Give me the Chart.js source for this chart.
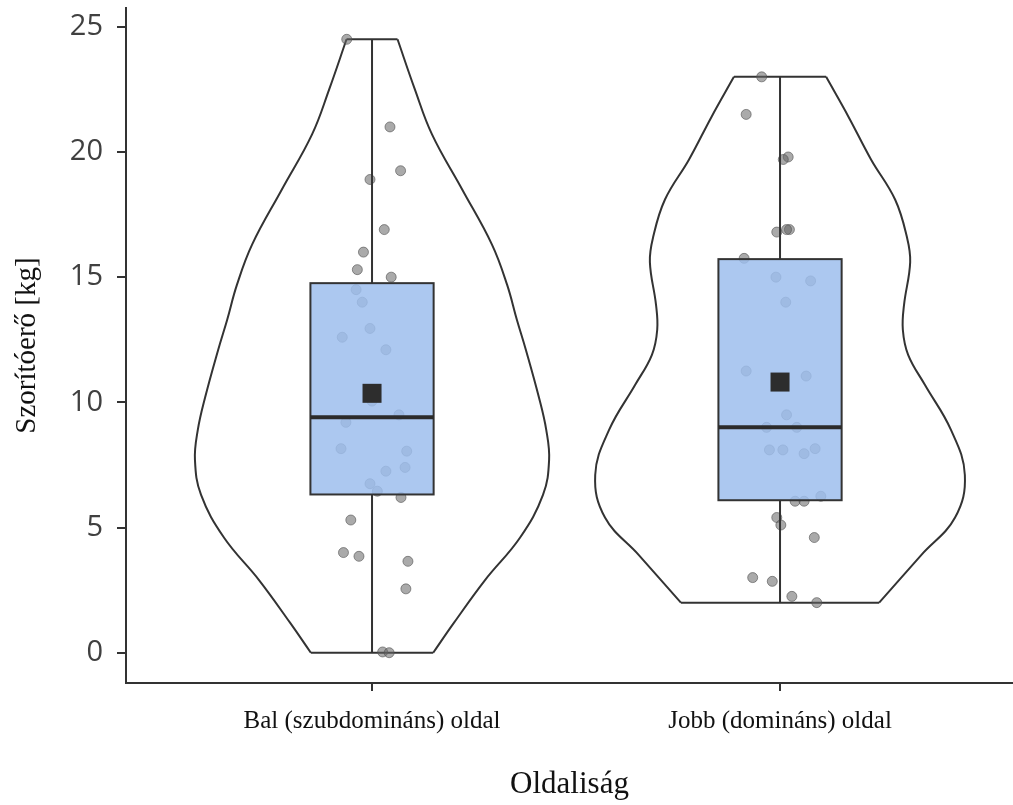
<!DOCTYPE html>
<html lang="hu">
<head>
  <meta charset="UTF-8">
  <title>Szorítóerő oldaliság szerint</title>
  <script src="https://cdn.jsdelivr.net/npm/chart.js"></script>
  <style>
    html, body { margin: 0; padding: 0; background: #fff; }
    #wrap { width: 1013px; height: 805px; }
  </style>
</head>
<body>
<div id="wrap"><canvas id="violinChart" width="1013" height="805"></canvas></div>
<script>
  // categories and tick labels
  var categories = ['Bal (szubdomináns) oldal', 'Jobb (domináns) oldal'];
  var yTicks = [0, 5, 10, 15, 20, 25];

  // individual measurements (kg) and their horizontal jitter
  var balValues = [24.5, 21.0, 19.25, 18.9, 16.9, 16.0, 15.3, 15.0, 14.5, 14.0, 12.95, 12.6, 12.1, 10.05, 9.5,
                   9.2, 8.15, 8.05, 7.4, 7.25, 6.75, 6.45, 6.2, 5.3, 4.0, 3.85, 3.65, 2.55, 0.03, 0];
  var balJitter = [-0.062, 0.044, 0.070, -0.005, 0.030, -0.021, -0.036, 0.047, -0.039, -0.024, -0.005, -0.073, 0.034, 0, 0.066,
                   -0.064, -0.076, 0.085, 0.081, 0.034, -0.005, 0.013, 0.071, -0.052, -0.070, -0.032, 0.088, 0.083, 0.026, 0.042];
  var jobbValues = [23.0, 21.5, 19.8, 19.7, 16.9, 16.9, 16.8, 15.75, 15.0, 14.85, 14.0, 11.25, 11.05, 9.5, 9.0,
                    9.0, 8.1, 8.1, 7.95, 8.15, 6.25, 6.05, 6.05, 5.4, 5.1, 4.6, 3.0, 2.85, 2.25, 2.0];
  var jobbJitter = [-0.045, -0.083, 0.020, 0.008, 0.023, 0.016, -0.008, -0.088, -0.010, 0.075, 0.014, -0.083, 0.064, 0.016, -0.033,
                    0.041, -0.026, 0.007, 0.059, 0.086, 0.100, 0.037, 0.059, -0.008, 0.002, 0.084, -0.067, -0.019, 0.029, 0.090];

  // box stats: min, q1, median, q3, max
  var balBox = [0, 6.32, 9.4, 14.76, 24.5];
  var jobbBox = [2.0, 6.09, 9.0, 15.72, 23.0];
  var means = [10.36, 10.81];

  // violin outline: levels and half width (density)
  var balLevels = [0, 1.2, 2.9, 4.6, 6.3, 7.7, 8.9, 10.2, 12.1, 13.3, 14.7, 16.3, 18.5, 20.7, 22.5, 24.5];
  var balDensity = [0.150, 0.201, 0.277, 0.363, 0.419, 0.434, 0.427, 0.409, 0.377, 0.355, 0.331, 0.294, 0.221, 0.147, 0.105, 0.0625];
  var jobbLevels = [2.0, 3.9, 5.4, 7.1, 8.9, 10.7, 11.9, 12.9, 13.9, 15.6, 16.6, 18.1, 19.7, 21.4, 23.0];
  var jobbDensity = [0.243, 0.346, 0.429, 0.453, 0.419, 0.355, 0.314, 0.301, 0.304, 0.319, 0.311, 0.282, 0.223, 0.168, 0.113];

  var boxHalf = 0.151;
  var serif = "'Liberation Serif', 'Times New Roman', serif";
  var ink = '#333333';

  function jitterPoints(values, jitter, center) {
    return values.map(function (v, k) { return { x: center + jitter[k], y: v }; });
  }

  function violinSets(levels, dens, center) {
    var left = levels.map(function (y, k) { return { x: center - dens[k], y: y }; });
    var right = levels.map(function (y, k) { return { x: center + dens[k], y: y }; });
    var n = levels.length - 1;
    var sets = [
      { data: left, tension: 0.4 },
      { data: right, tension: 0.4 },
      { data: [left[0], right[0]], tension: 0 },
      { data: [left[n], right[n]], tension: 0 }
    ];
    return sets.map(function (s) {
      s.showLine = true;
      s.pointRadius = 0;
      s.borderColor = ink;
      s.borderWidth = 2;
      s.fill = false;
      return s;
    });
  }

  var pointStyle = {
    pointRadius: 5,
    backgroundColor: 'rgba(100,100,100,0.55)',
    borderColor: 'rgba(80,80,80,0.6)',
    borderWidth: 1,
    showLine: false
  };

  var datasets = [
    Object.assign({ data: jitterPoints(balValues, balJitter, 1) }, pointStyle),
    Object.assign({ data: jitterPoints(jobbValues, jobbJitter, 2) }, pointStyle)
  ].concat(violinSets(balLevels, balDensity, 1), violinSets(jobbLevels, jobbDensity, 2));

  // box, whiskers, median and mean go on top of points
  var boxPlugin = {
    id: 'boxLayer',
    afterDatasetsDraw: function (chart) {
      var ctx = chart.ctx, xs = chart.scales.x, ys = chart.scales.y;
      [balBox, jobbBox].forEach(function (b, i) {
        var c = i + 1;
        var xl = xs.getPixelForValue(c - boxHalf);
        var xr = xs.getPixelForValue(c + boxHalf);
        var xc = xs.getPixelForValue(c);
        var yMin = ys.getPixelForValue(b[0]);
        var yQ1 = ys.getPixelForValue(b[1]);
        var yMed = ys.getPixelForValue(b[2]);
        var yQ3 = ys.getPixelForValue(b[3]);
        var yMax = ys.getPixelForValue(b[4]);
        ctx.save();
        ctx.strokeStyle = ink;
        ctx.lineWidth = 2;
        ctx.beginPath();
        ctx.moveTo(xc, yMin); ctx.lineTo(xc, yQ1);
        ctx.moveTo(xc, yQ3); ctx.lineTo(xc, yMax);
        ctx.stroke();

        ctx.fillStyle = 'rgba(158,190,237,0.85)';
        ctx.fillRect(xl, yQ3, xr - xl, yQ1 - yQ3);
        ctx.strokeRect(xl, yQ3, xr - xl, yQ1 - yQ3);

        ctx.lineWidth = 4;
        ctx.strokeStyle = '#2b2b2b';
        ctx.beginPath();
        ctx.moveTo(xl, yMed); ctx.lineTo(xr, yMed);
        ctx.stroke();

        var ym = ys.getPixelForValue(means[i]);
        ctx.fillStyle = '#2d2d2d';
        ctx.fillRect(xc - 9.5, ym - 9.5, 19, 19);
        ctx.restore();
      });
    }
  };

  var ctx = document.getElementById('violinChart').getContext('2d');
  var chart = new Chart(ctx, {
    type: 'scatter',
    data: { datasets: datasets },
    plugins: [boxPlugin],
    options: {
      responsive: false,
      animation: false,
      events: [],
      layout: { autoPadding: false, padding: { top: 8, left: 0, right: 0, bottom: 0 } },
      plugins: { legend: { display: false }, tooltip: { enabled: false } },
      scales: {
        x: {
          type: 'linear',
          min: 0.397,
          max: 2.571,
          afterBuildTicks: function (s) {
            s.ticks = categories.map(function (_, i) { return { value: i + 1 }; });
          },
          afterFit: function (s) {
            s.height = 122;
            s.paddingLeft = 0;
            s.paddingRight = 0;
          },
          border: { display: true, color: ink, width: 2 },
          grid: { drawOnChartArea: false, drawTicks: true, tickLength: 8, tickColor: ink, lineWidth: 2 },
          ticks: {
            autoSkip: false,
            maxRotation: 0,
            padding: 15,
            color: '#111',
            font: { family: serif, size: 25 },
            callback: function (v, i) { return categories[i]; }
          },
          title: {
            display: true,
            text: 'Oldaliság',
            color: '#111',
            font: { family: serif, size: 31 },
            padding: { top: 0, bottom: 2 }
          }
        },
        y: {
          min: -1.21,
          max: 25.75,
          afterBuildTicks: function (s) {
            s.ticks = yTicks.map(function (v) { return { value: v }; });
          },
          afterFit: function (s) {
            s.width = 126;
            s.paddingTop = 0;
            s.paddingBottom = 0;
          },
          border: { display: true, color: ink, width: 2 },
          grid: { drawOnChartArea: false, drawTicks: true, tickLength: 9, tickColor: ink, lineWidth: 2 },
          ticks: {
            padding: 14,
            color: '#404040',
            font: { family: "'Open Sans', sans-serif", size: 29 }
          },
          title: {
            display: true,
            text: 'Szorítóerő [kg]',
            color: '#111',
            font: { family: serif, size: 29 },
            padding: { top: 10, bottom: 0 }
          }
        }
      }
    }
  });
</script>
</body>
</html>
